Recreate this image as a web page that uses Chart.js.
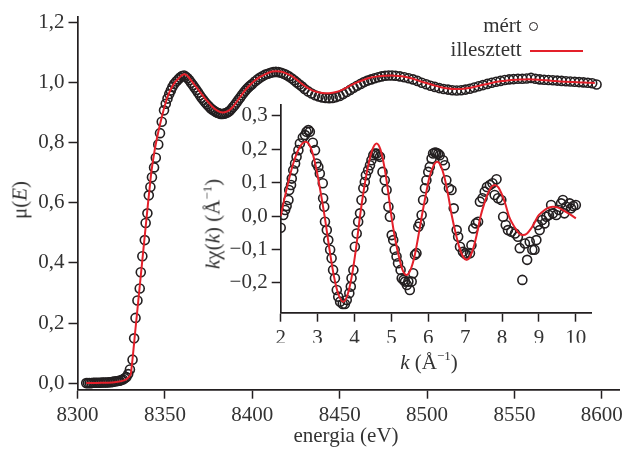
<!DOCTYPE html>
<html>
<head>
<meta charset="utf-8">
<title>XANES / EXAFS</title>
<script src="https://cdn.jsdelivr.net/npm/chart.js@4.4.0/dist/chart.umd.min.js"></script>
<style>
  body { margin: 0; background: #fff; }
  #wrap { position: relative; width: 627px; height: 451px; font-family: "Liberation Serif", serif; color: #333; }
  canvas { position: absolute; left: 0; top: 0; }
  .lbl { position: absolute; font-size: 21px; line-height: 21px; white-space: nowrap; }
  .rot { transform: translate(-50%, -50%) rotate(-90deg); }
  .ctr { transform: translate(-50%, -50%); }
  sup { font-size: 0.62em; line-height: 0; vertical-align: 0.62em; }
  #dot { position: absolute; left: 529px; top: 22.2px; width: 9px; height: 9px; box-sizing: border-box; border: 1.6px solid #231f20; border-radius: 50%; }
  #dash { position: absolute; left: 530px; top: 49.7px; width: 53px; height: 2px; background: #e4202a; }
</style>
</head>
<body>
<div id="wrap">
  <canvas id="main" width="627" height="451"></canvas>
  <canvas id="inset" width="627" height="451"></canvas>
  <div class="lbl rot" style="left:20px; top:200px;">μ(<i>E</i>)</div>
  <div class="lbl ctr" style="left:346px; top:435px;">energia (eV)</div>
  <div class="lbl rot" style="left:213px; top:224px;"><i>k</i>χ(<i>k</i>) (Å<sup>−1</sup>)</div>
  <div class="lbl ctr" style="left:429px; top:362px;"><i>k</i> (Å<sup>−1</sup>)</div>
  <div class="lbl" style="right:105.3px; top:15px;">mért</div>
  <div id="dot"></div>
  <div class="lbl" style="right:105.3px; top:39px;">illesztett</div>
  <div id="dash"></div>
</div>
<script>
// measured spectrum (energy in eV, normalised absorption)
const mainE = [
  8305, 8306, 8307, 8308, 8309, 8310, 8311, 8312, 8313, 8314,
  8315, 8316, 8317, 8318, 8319, 8320, 8321, 8322, 8323, 8324,
  8325, 8326, 8327, 8328, 8329, 8330, 8331.5, 8332.4, 8333.2, 8334.3,
  8335.6, 8336.2, 8337.1, 8338.5, 8339, 8340, 8340.8, 8341.7, 8342.6, 8343.8,
  8344.8, 8346.2, 8347.2, 8348.2, 8349.5, 8350.5, 8351.5, 8352.5, 8353.4, 8354.3,
  8355.3, 8356.5, 8357.6, 8358.7, 8359.8, 8361, 8362, 8363, 8364, 8365,
  8366, 8367, 8368, 8369, 8370, 8371, 8372, 8373, 8374, 8375,
  8376, 8377, 8378, 8379, 8380, 8381, 8382, 8383, 8384, 8385,
  8386, 8387, 8388, 8389, 8390, 8391, 8392, 8393, 8394, 8395,
  8396, 8397, 8398, 8399, 8400, 8401.5, 8403, 8404.5, 8406, 8407.5,
  8409, 8410.5, 8412, 8413.5, 8415, 8416.5, 8418, 8419.5, 8421, 8422.5,
  8424, 8425.5, 8427, 8428.5, 8430, 8432, 8434, 8436, 8438, 8440,
  8442, 8444, 8446, 8448, 8450, 8452, 8454, 8456, 8458, 8460,
  8462, 8464, 8466, 8468, 8470, 8472, 8474, 8476, 8478, 8480,
  8482, 8484.5, 8487, 8489.5, 8492, 8494.5, 8497, 8499.5, 8502, 8504.5,
  8507, 8509.5, 8512, 8514.5, 8517, 8519.5, 8522, 8524.5, 8527, 8529.5,
  8532, 8534.5, 8537, 8539.5, 8542, 8544.5, 8547, 8549.5, 8552, 8554.5,
  8557, 8559.5, 8562, 8564.5, 8567, 8569.5, 8572, 8574.5, 8577, 8579.5,
  8582, 8584.5, 8587, 8589.5, 8592, 8594.5, 8597
];
const mainMu = [
  0.000, 0.000, 0.000, 0.000, 0.001, 0.001, 0.001, 0.001, 0.001, 0.002,
  0.002, 0.002, 0.002, 0.003, 0.003, 0.004, 0.005, 0.006, 0.007, 0.008,
  0.010, 0.012, 0.016, 0.020, 0.030, 0.045, 0.078, 0.149, 0.217, 0.275,
  0.315, 0.369, 0.422, 0.476, 0.533, 0.565, 0.625, 0.653, 0.685, 0.718,
  0.750, 0.794, 0.832, 0.870, 0.908, 0.930, 0.947, 0.962, 0.974, 0.986,
  0.996, 1.004, 1.011, 1.017, 1.022, 1.024, 1.020, 1.015, 1.008, 1.000,
  0.992, 0.984, 0.976, 0.967, 0.958, 0.950, 0.942, 0.935, 0.928, 0.922,
  0.916, 0.911, 0.907, 0.903, 0.900, 0.898, 0.896, 0.896, 0.897, 0.899,
  0.902, 0.906, 0.912, 0.919, 0.926, 0.934, 0.942, 0.950, 0.958, 0.966,
  0.973, 0.980, 0.986, 0.991, 0.996, 1.004, 1.011, 1.017, 1.022, 1.027,
  1.030, 1.033, 1.035, 1.036, 1.035, 1.033, 1.030, 1.026, 1.021, 1.015,
  1.008, 1.001, 0.994, 0.987, 0.979, 0.971, 0.964, 0.958, 0.954, 0.951,
  0.949, 0.948, 0.949, 0.952, 0.956, 0.962, 0.969, 0.976, 0.983, 0.990,
  0.996, 1.002, 1.007, 1.011, 1.015, 1.018, 1.021, 1.023, 1.024, 1.024,
  1.023, 1.021, 1.018, 1.015, 1.011, 1.006, 1.000, 0.995, 0.990, 0.986,
  0.982, 0.979, 0.977, 0.975, 0.974, 0.975, 0.977, 0.980, 0.984, 0.988,
  0.992, 0.996, 1.000, 1.003, 1.006, 1.009, 1.011, 1.012, 1.013, 1.013,
  1.014, 1.016, 1.013, 1.011, 1.010, 1.009, 1.008, 1.007, 1.006, 1.005,
  1.004, 1.003, 1.002, 1.001, 1.000, 0.998, 0.994
];

// fitted spectrum
const fitE = [
  8305, 8310, 8315, 8320, 8324, 8327, 8329, 8330.5, 8333, 8336,
  8339, 8342, 8344, 8346, 8348, 8350, 8352, 8354, 8356, 8358,
  8360, 8361.5, 8363, 8365, 8368, 8371, 8374, 8377, 8380, 8383,
  8386, 8389, 8392, 8395, 8398, 8401, 8404, 8407, 8410, 8413,
  8416, 8419, 8422, 8425, 8428, 8431, 8434, 8437, 8440, 8444,
  8448, 8452, 8456, 8460, 8464, 8468, 8472, 8476, 8480, 8484,
  8488, 8492, 8496, 8500, 8504, 8508, 8512, 8516, 8520, 8524,
  8528, 8532, 8536, 8540, 8544, 8548, 8552, 8556, 8560, 8564,
  8568, 8572, 8576, 8580, 8584, 8588, 8592, 8596
];
const fitMu = [
  0.000, 0.000, 0.001, 0.002, 0.005, 0.010, 0.018, 0.030, 0.170, 0.345,
  0.520, 0.690, 0.770, 0.830, 0.880, 0.925, 0.960, 0.985, 1.003, 1.015,
  1.026, 1.028, 1.022, 1.008, 0.985, 0.962, 0.940, 0.921, 0.907, 0.901,
  0.905, 0.920, 0.944, 0.968, 0.988, 1.005, 1.018, 1.027, 1.035, 1.038,
  1.037, 1.032, 1.024, 1.012, 0.998, 0.985, 0.975, 0.969, 0.966, 0.965,
  0.969, 0.978, 0.990, 1.001, 1.010, 1.017, 1.021, 1.023, 1.024, 1.022,
  1.019, 1.013, 1.005, 0.998, 0.991, 0.985, 0.981, 0.979, 0.979, 0.982,
  0.987, 0.993, 0.998, 1.003, 1.006, 1.009, 1.010, 1.011, 1.011, 1.010,
  1.008, 1.006, 1.004, 1.003, 1.002, 1.001, 1.000, 0.999
];

// EXAFS oscillation, k in 1/Å
const kVals = [
  2.00, 2.07, 2.12, 2.16, 2.21, 2.23, 2.28, 2.30, 2.34, 2.39,
  2.43, 2.48, 2.52, 2.60, 2.66, 2.70, 2.75, 2.79, 2.87, 2.93,
  2.97, 3.02, 3.06, 3.14, 3.15, 3.18, 3.20, 3.25, 3.29, 3.34,
  3.38, 3.42, 3.47, 3.52, 3.56, 3.61, 3.68, 3.74, 3.79, 3.86,
  3.90, 3.92, 3.97, 4.01, 4.06, 4.10, 4.15, 4.19, 4.24, 4.28,
  4.31, 4.37, 4.42, 4.46, 4.51, 4.55, 4.60, 4.64, 4.69, 4.76,
  4.82, 4.87, 4.92, 4.96, 5.01, 5.05, 5.09, 5.14, 5.18, 5.25,
  5.28, 5.33, 5.37, 5.42, 5.46, 5.50, 5.55, 5.59, 5.64, 5.68,
  5.73, 5.77, 5.82, 5.86, 5.91, 5.95, 6.00, 6.04, 6.09, 6.13,
  6.18, 6.22, 6.27, 6.31, 6.40, 6.45, 6.49, 6.56, 6.63, 6.69,
  6.77, 6.81, 6.86, 6.94, 6.99, 7.04, 7.13, 7.17, 7.22, 7.29,
  7.35, 7.40, 7.47, 7.53, 7.59, 7.67, 7.74, 7.80, 7.85, 7.89,
  7.98, 8.03, 8.10, 8.16, 8.25, 8.35, 8.43, 8.48, 8.55, 8.62,
  8.68, 8.75, 8.82, 8.88, 8.93, 8.97, 9.02, 9.09, 9.15, 9.20,
  9.27, 9.33, 9.38, 9.47, 9.54, 9.60, 9.65, 9.69, 9.74, 9.83,
  9.87, 9.93, 10.00
];
const chiVals = [
  -0.035, 0.003, 0.018, 0.030, 0.048, 0.078, 0.093, 0.112, 0.137, 0.157,
  0.177, 0.197, 0.217, 0.235, 0.242, 0.252, 0.257, 0.252, 0.219, 0.197,
  0.157, 0.147, 0.127, 0.098, 0.053, 0.028, -0.017, -0.042, -0.072, -0.101,
  -0.126, -0.161, -0.186, -0.221, -0.241, -0.256, -0.263, -0.263, -0.251, -0.231,
  -0.211, -0.186, -0.161, -0.092, -0.052, -0.017, 0.008, 0.048, 0.083, 0.102,
  0.122, 0.137, 0.152, 0.167, 0.182, 0.187, 0.187, 0.182, 0.177, 0.132,
  0.107, 0.078, 0.028, -0.002, -0.057, -0.072, -0.101, -0.121, -0.141, -0.161,
  -0.186, -0.191, -0.196, -0.206, -0.196, -0.221, -0.196, -0.171, -0.116, -0.111,
  -0.032, -0.022, 0.003, 0.048, 0.083, 0.107, 0.132, 0.147, 0.172, 0.187,
  0.190, 0.189, 0.186, 0.182, 0.167, 0.152, 0.107, 0.083, 0.078, 0.023,
  -0.042, -0.062, -0.092, -0.107, -0.112, -0.116, -0.111, -0.087, -0.037, -0.022,
  -0.017, 0.043, 0.053, 0.073, 0.087, 0.093, 0.098, 0.063, 0.110, 0.053,
  0.048, -0.002, -0.027, -0.042, -0.047, -0.052, -0.062, -0.096, -0.191, -0.082,
  -0.131, -0.077, -0.101, -0.101, -0.072, -0.027, -0.042, -0.012, -0.022, -0.002,
  0.003, 0.033, 0.008, 0.003, 0.018, 0.038, 0.048, 0.008, 0.028, 0.038,
  0.023, 0.030, 0.033
];

// fitted EXAFS
const fitK = [
  2.00, 2.17, 2.34, 2.51, 2.68, 2.81, 2.935, 3.06, 3.19, 3.32,
  3.445, 3.57, 3.70, 3.81, 3.925, 4.04, 4.15, 4.26, 4.375, 4.49,
  4.60, 4.70, 4.80, 4.90, 5.00, 5.10, 5.21, 5.31, 5.41, 5.51,
  5.62, 5.72, 5.825, 5.93, 6.03, 6.14, 6.24, 6.34, 6.44, 6.54,
  6.64, 6.74, 6.84, 6.94, 7.04, 7.135, 7.23, 7.325, 7.42, 7.515,
  7.61, 7.705, 7.80, 7.90, 7.99, 8.09, 8.185, 8.28, 8.38, 8.47,
  8.57, 8.67, 8.77, 8.87, 8.975, 9.08, 9.18, 9.28, 9.38, 9.50,
  9.65, 9.80, 10.00
];
const fitChi = [
  0.000, 0.085, 0.157, 0.205, 0.222, 0.205, 0.157, 0.085, 0.000, -0.098,
  -0.181, -0.236, -0.256, -0.236, -0.181, -0.098, 0.000, 0.083, 0.153, 0.200,
  0.217, 0.200, 0.153, 0.083, 0.000, -0.067, -0.124, -0.163, -0.176, -0.163,
  -0.124, -0.067, 0.000, 0.062, 0.115, 0.150, 0.162, 0.150, 0.115, 0.062,
  0.000, -0.050, -0.093, -0.121, -0.131, -0.121, -0.093, -0.050, 0.000, 0.036,
  0.066, 0.086, 0.093, 0.086, 0.066, 0.036, 0.000, -0.022, -0.040, -0.053,
  -0.057, -0.053, -0.040, -0.022, 0.000, 0.011, 0.020, 0.026, 0.028, 0.026,
  0.018, 0.008, -0.007
];

// tick positions
const mainXTicks = [8300, 8350, 8400, 8450, 8500, 8550, 8600];
const mainYTicks = [0, 0.2, 0.4, 0.6, 0.8, 1.0, 1.2];
const insetXTicks = [2, 3, 4, 5, 6, 7, 8, 9, 10];
const insetYTicks = [-0.2, -0.1, 0, 0.1, 0.2, 0.3];

const ink = '#231f20';
const red = '#e4202a';

Chart.defaults.font.family = '"Liberation Serif", serif';
Chart.defaults.color = '#333';

function toPoints(xs, ys) {
    return xs.map((x, i) => ({ x: x, y: ys[i] }));
}

function decimal(v) {
    return v.toFixed(1).replace('.', ',').replace('-', '−');
}

// shared axis look: only the axis line and outward ticks, no grid
function axis(min, max, tickList, fmt, size, fitSize) {
    return {
        type: 'linear',
        min: min,
        max: max,
        afterBuildTicks: (scale) => {
            scale.ticks = tickList.map((v) => ({ value: v }));
        },
        afterFit: (scale) => {
            if (scale.isHorizontal()) scale.height = fitSize;
            else scale.width = fitSize;
        },
        grid: {
            drawOnChartArea: false,
            drawTicks: true,
            tickLength: 9,
            tickColor: ink,
            tickWidth: 1.5,
        },
        border: { display: true, color: ink, width: 1.7 },
        ticks: {
            autoSkip: false,
            maxRotation: 0,
            padding: 4,
            color: '#333',
            font: { size: size },
            callback: fmt,
        },
    };
}

const baseOptions = {
    responsive: false,
    animation: false,
    events: [],
    plugins: { legend: { display: false }, tooltip: { enabled: false } },
};

// main chart
new Chart(document.getElementById('main'), {
    type: 'scatter',
    data: {
        datasets: [
            {
                label: 'illesztett',
                data: toPoints(fitE, fitMu),
                showLine: true,
                borderColor: red,
                borderWidth: 2,
                pointRadius: 0,
                tension: 0.2,
            },
            {
                label: 'mért',
                data: toPoints(mainE, mainMu),
                showLine: false,
                pointRadius: 4.5,
                pointBorderWidth: 1.6,
                pointBorderColor: ink,
                pointBackgroundColor: 'rgba(0,0,0,0)',
            },
        ],
    },
    options: {
        ...baseOptions,
        layout: { padding: { left: 0, top: 9.6, right: 6, bottom: 0 } },
        scales: {
            x: axis(8300, 8610, mainXTicks, (v) => String(v), 21, 61.3),
            y: axis(-0.022, 1.22, mainYTicks, decimal, 21, 77.5),
        },
    },
});

// inset chart
new Chart(document.getElementById('inset'), {
    type: 'scatter',
    data: {
        datasets: [
            {
                label: 'illesztett',
                data: toPoints(fitK, fitChi),
                showLine: true,
                borderColor: red,
                borderWidth: 2,
                pointRadius: 0,
                cubicInterpolationMode: 'monotone',
            },
            {
                label: 'mért',
                data: toPoints(kVals, chiVals),
                showLine: false,
                pointRadius: 4.5,
                pointBorderWidth: 1.6,
                pointBorderColor: ink,
                pointBackgroundColor: 'rgba(0,0,0,0)',
            },
        ],
    },
    options: {
        ...baseOptions,
        layout: { padding: { left: 220.7, top: 105, right: 35.3, bottom: 108.3 } },
        scales: {
            x: axis(2, 10.43, insetXTicks, (v) => String(v), 21, 30),
            y: axis(-0.289, 0.332, insetYTicks, decimal, 21, 60),
        },
    },
});
</script>
</body>
</html>
